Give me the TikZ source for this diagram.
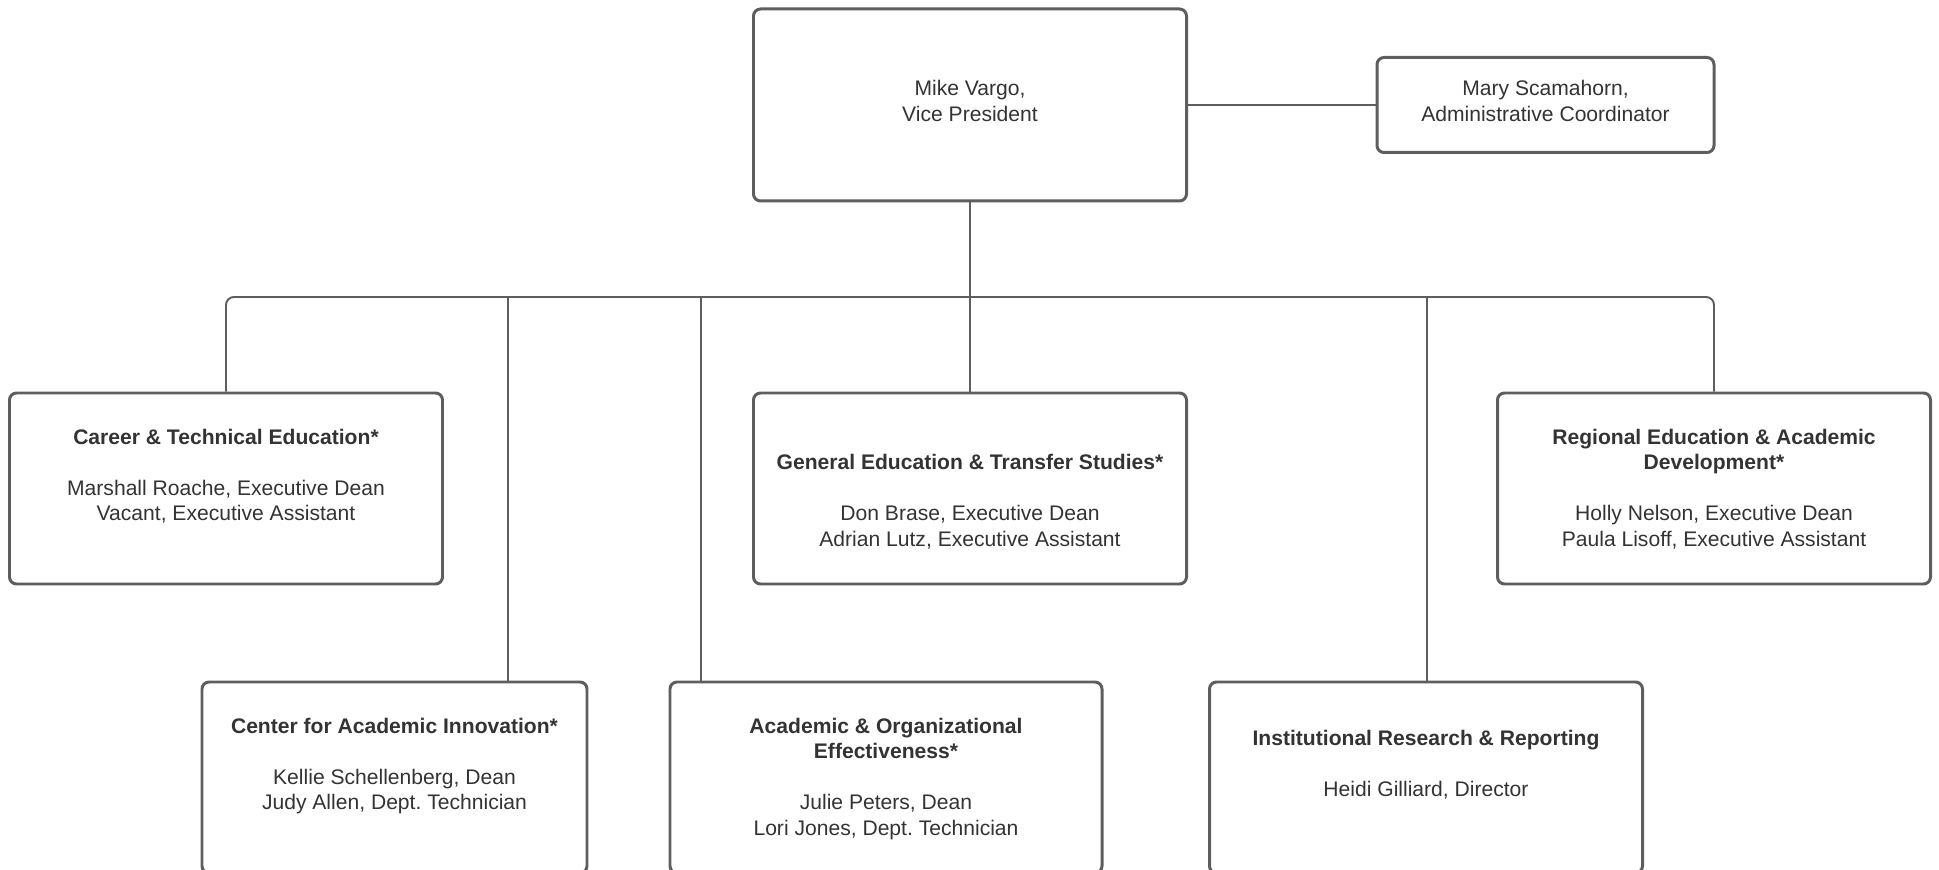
\documentclass[tikz,border=0pt]{standalone}
\usepackage{fontspec}
\setmainfont{Liberation Sans}
\usepackage{tikz}
\usetikzlibrary{positioning}
\usepackage{xcolor}
\definecolor{boxgray}{HTML}{5E5E5E}
\definecolor{textgray}{HTML}{333333}
\newcommand{\lstrut}{\rule[-3.5pt]{0pt}{14.5pt}}
\newcommand{\lift}{\rule[-7pt]{0pt}{0pt}}
\newcommand{\unitline}[1]{\lstrut#1}

\begin{document}
\begin{tikzpicture}[
    unit/.style={draw=boxgray, line width=1.7pt, rounded corners=4pt, align=center,
        text=textgray, font=\fontsize{12}{14.5}\selectfont, inner sep=0pt,
        minimum width=8.66cm, minimum height=3.82cm},
    link/.style={draw=boxgray, line width=1.1pt, rounded corners=4.5pt}]
        % Page size; the bottom row runs past the lower edge
        \useasboundingbox (0,0) rectangle (38.78,17.40);
        \clip (0,0) rectangle (38.78,17.40);

        % Draw top row
        \node[unit, minimum height=3.84cm] (vp) at (19.40,15.30)
            {\unitline{Mike Vargo,}\\ \unitline{Vice President}\lift};
        \node[unit, minimum width=6.74cm, minimum height=1.90cm] (mary) at (30.91,15.30)
            {\unitline{Mary Scamahorn,}\\ \unitline{Administrative Coordinator}\lift};

        % Draw middle row
        \node[unit] (cte) at (4.52,7.63)
            {\unitline{\textbf{Career \& Technical Education*}}\\ \lstrut\\
             \unitline{Marshall Roache, Executive Dean}\\ \unitline{Vacant, Executive Assistant}\\ \lstrut};
        \node[unit] (gets) at (19.40,7.63)
            {\lstrut\\ \unitline{\textbf{General Education \& Transfer Studies*}}\\ \lstrut\\
             \unitline{Don Brase, Executive Dean}\\ \unitline{Adrian Lutz, Executive Assistant}};
        \node[unit] (read) at (34.28,7.63)
            {\unitline{\textbf{Regional Education \& Academic}}\\ \unitline{\textbf{Development*}}\\ \lstrut\\
             \unitline{Holly Nelson, Executive Dean}\\ \unitline{Paula Lisoff, Executive Assistant}};

        % Draw bottom row
        \node[unit, minimum width=7.70cm] (cai) at (7.89,1.85)
            {\unitline{\textbf{Center for Academic Innovation*}}\\ \lstrut\\
             \unitline{Kellie Schellenberg, Dean}\\ \unitline{Judy Allen, Dept.\ Technician}\\ \lstrut};
        \node[unit, minimum width=8.64cm] (aoe) at (17.72,1.85)
            {\unitline{\textbf{Academic \& Organizational}}\\ \unitline{\textbf{Effectiveness*}}\\ \lstrut\\
             \unitline{Julie Peters, Dean}\\ \unitline{Lori Jones, Dept.\ Technician}};
        \node[unit] (irr) at (28.52,1.85)
            {\unitline{\textbf{Institutional Research \& Reporting}}\\ \lstrut\\
             \unitline{Heidi Gilliard, Director}\\ \lstrut};

        % Connectors
        \coordinate (bus) at (19.40,11.46);
        \coordinate (caitap) at (10.16,11.46);
        \coordinate (aoetap) at (14.02,11.46);
        \coordinate (irrtap) at (28.54,11.46);
        \draw[link] (vp.east) -- (mary.west);
        \draw[link] (vp.south) -- (gets.north);
        \draw[link] (cte.north) |- (bus) -| (read.north);
        \draw[link] (caitap) -- (caitap |- cai.north);
        \draw[link] (aoetap) -- (aoetap |- aoe.north);
        \draw[link] (irrtap) -- (irrtap |- irr.north);
\end{tikzpicture}
\end{document}
